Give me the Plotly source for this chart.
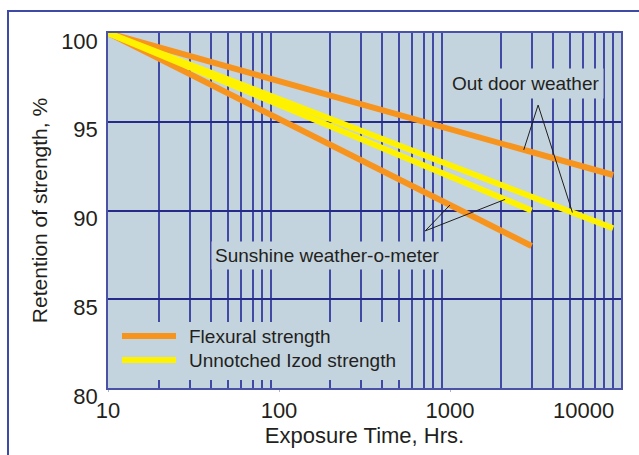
import math
import plotly.graph_objects as go

# Exposure time (hours) at the start and end of each curve
hours_outdoor = [10, 9000]
hours_sunshine = [10, 3000]

# Retention of strength (%)
outdoor_flexural = [100, 92]
outdoor_izod = [100, 89]
sunshine_flexural = [100, 88]
sunshine_izod = [100, 90]

x_tick_vals = [10, 100, 1000]
x_tick_text = ["10", "100", "1000"]
x_last_tick = 10000
y_tick_vals = [80, 85, 90, 95, 100]

legend_items = [("Flexural strength", "#F7941D"), ("Unnotched Izod strength", "#FFF200")]

ORANGE = "#F7941D"
YELLOW = "#FFF200"
PLOT_BG = "#C4D4DE"
VGRID = "#4049A3"
HGRID = "#262A88"
TEXT = "#231F20"
FONT = "Liberation Sans, Arial, sans-serif"

W, H = 639, 455
L, R, T, B = 108, 18, 33, 67
PW, PH = W - L - R, H - T - B


def px(xp):
    return (xp - L) / PW


def py(yp):
    return (H - B - yp) / PH


def on_line(xs, ys, x):
    """Value of a straight (log-x) curve at exposure time x."""
    f = (math.log10(x) - math.log10(xs[0])) / (math.log10(xs[1]) - math.log10(xs[0]))
    return ys[0] + (ys[1] - ys[0]) * f


fig = go.Figure()

series = [
    ("Flexural strength (outdoor)", hours_outdoor, outdoor_flexural, ORANGE),
    ("Flexural strength (weather-o-meter)", hours_sunshine, sunshine_flexural, ORANGE),
    ("Unnotched Izod strength (outdoor)", hours_outdoor, outdoor_izod, YELLOW),
    ("Unnotched Izod strength (weather-o-meter)", hours_sunshine, sunshine_izod, YELLOW),
]
for name, xs, ys, color in series:
    fig.add_trace(go.Scatter(x=xs, y=ys, mode="lines", name=name,
                             line=dict(color=color, width=6), showlegend=False))

minor_vals = [d * m for d in (10, 100, 1000) for m in range(2, 10)]

shapes = []
annotations = []

# leader lines from the callout labels to the curves
leaders = [
    ((3275, 95.94), [(2700, on_line(hours_outdoor, outdoor_flexural, 2700)),
                     (5200, on_line(hours_outdoor, outdoor_izod, 5200))]),
    ((716, 88.85), [(1000, on_line(hours_sunshine, sunshine_flexural, 1000)),
                    (2100, on_line(hours_sunshine, sunshine_izod, 2100))]),
]
for (ax_, ay_), targets in leaders:
    for tx, ty in targets:
        shapes.append(dict(type="line", xref="x", yref="y", x0=ax_, y0=ay_, x1=tx, y1=ty,
                           line=dict(color="#1E1E1E", width=1), layer="above"))

# callout labels
annotations.append(dict(text="Out door weather", xref="x", yref="y",
                        x=math.log10(2750), y=97.18, showarrow=False,
                        font=dict(family=FONT, size=19, color=TEXT),
                        bgcolor=PLOT_BG, borderpad=4))
annotations.append(dict(text="Sunshine weather-o-meter", xref="x", yref="y",
                        x=math.log10(192), y=87.49, showarrow=False,
                        font=dict(family=FONT, size=19, color=TEXT),
                        bgcolor=PLOT_BG, borderpad=3))

# legend panel
shapes.append(dict(type="rect", xref="paper", yref="paper", x0=px(L + 1), x1=px(405),
                   y0=py(380), y1=py(322), fillcolor=PLOT_BG, line=dict(width=0), layer="above"))
for i, (label, color) in enumerate(legend_items):
    yy = py(336 + 24 * i)
    shapes.append(dict(type="line", xref="paper", yref="paper", x0=px(122), x1=px(176),
                       y0=yy, y1=yy, line=dict(color=color, width=6), layer="above"))
    annotations.append(dict(text=label, xref="paper", yref="paper", x=px(187), y=yy,
                            xanchor="left", yanchor="middle", showarrow=False,
                            font=dict(family=FONT, size=19, color=TEXT)))

# last x tick label, set inside the frame
annotations.append(dict(text=str(x_last_tick), xref="x", yref="paper",
                        x=math.log10(x_last_tick), y=0, xanchor="center", yanchor="top",
                        xshift=-38, yshift=-8, showarrow=False,
                        font=dict(family=FONT, size=22, color=TEXT)))

# outer frame
shapes.append(dict(type="rect", xref="paper", yref="paper", x0=px(8), x1=px(W + 20),
                   y0=py(H + 20), y1=py(11), line=dict(color="#3D4BA6", width=2),
                   fillcolor="rgba(0,0,0,0)", layer="below"))

fig.update_layout(
    width=W, height=H,
    margin=dict(l=L, r=R, t=T, b=B),
    paper_bgcolor="white",
    plot_bgcolor=PLOT_BG,
    font=dict(family=FONT, color=TEXT),
    shapes=shapes,
    annotations=annotations,
)

fig.update_xaxes(
    type="log", range=[1, 4],
    tickvals=x_tick_vals, ticktext=x_tick_text,
    tickfont=dict(family=FONT, size=22, color=TEXT),
    ticks="outside", ticklen=2, tickcolor="#A9B3C9",
    showgrid=False,
    minor=dict(tickvals=minor_vals, showgrid=True, gridcolor=VGRID, gridwidth=1.5, ticks=""),
    showline=True, linecolor="#4A52A8", linewidth=1.5, mirror=True,
    title=dict(text="Exposure Time, Hrs.", font=dict(family=FONT, size=22, color=TEXT), standoff=3),
    zeroline=False,
)
fig.update_yaxes(
    range=[80, 100],
    tickvals=y_tick_vals,
    tickfont=dict(family=FONT, size=22, color=TEXT),
    ticks="", ticklabelstandoff=4, ticklabelshift=8,
    showgrid=True, gridcolor=HGRID, gridwidth=2,
    showline=True, linecolor="#4A52A8", linewidth=1.5, mirror=True,
    title=dict(text="Retention of strength, %", font=dict(family=FONT, size=21, color=TEXT), standoff=8),
    zeroline=False,
)

fig.write_html("out.html")
